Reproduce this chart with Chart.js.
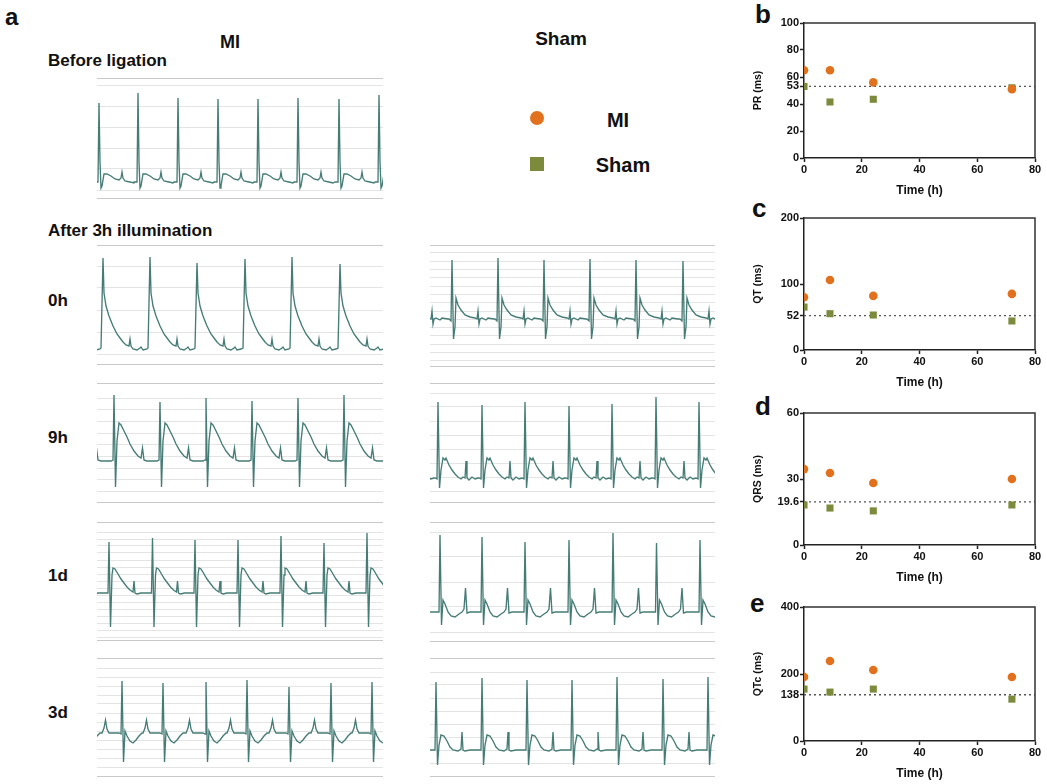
<!DOCTYPE html>
<html>
<head>
<meta charset="utf-8">
<script src="https://cdn.jsdelivr.net/npm/chart.js@4.4.1/dist/chart.umd.min.js"></script>
<style>
  body { margin: 0; background: #fff; }
  #fig { position: relative; width: 1047px; height: 784px; overflow: hidden; font-family: 'Liberation Sans', Arial, sans-serif; }
  #fig canvas { position: absolute; }
  .lbl { position: absolute; font-weight: bold; line-height: 1; white-space: nowrap; color: #111; }
  .mark { position: absolute; }
</style>
</head>
<body>
<div id="fig"></div>
<script>
// ---- panels b-e: intervals vs time ----
const hours = [0, 9, 24, 72];
const timeTicks = [0, 20, 40, 60, 80];

const prMI = [65, 65, 56, 51];
const prSham = [53, 41.5, 43.5, 52];
const prRef = 53;
const prTicks = [0, 20, 40, 53, 60, 80, 100];

const qtMI = [80, 106, 82, 85];
const qtSham = [65, 55, 53, 44];
const qtRef = 52;
const qtTicks = [0, 52, 100, 200];

const qrsMI = [34.5, 32.7, 28.2, 30];
const qrsSham = [18.2, 16.8, 15.5, 18.2];
const qrsRef = 19.6;
const qrsTicks = [0, 19.6, 30, 60];

const qtcMI = [191, 239, 212, 191];
const qtcSham = [155, 146, 155, 125];
const qtcRef = 138;
const qtcTicks = [0, 138, 200, 400];

// ---- panel a: ECG traces ----
// beat shape as [dt, amp] around the R peak, then R times (first one is the beat
// just before the strip starts) and R heights
const beforeMiShape = [[-4,0],[-1,0],[0,84],[1,20],[2,-6],[3,-4],[5,8],[8,8],[12,6],[16,3],[20,2],[22,4],[23,10],[24,4],[26,1],[31,0],[35,-1]];
const beforeMiBeats = [-38, 2, 41, 81, 121, 161, 201, 242, 282];
const beforeMiPeaks = [84, 79, 89, 84, 83, 83, 84, 83, 87];

const mi0hShape = [[-2,0],[0,90],[1,55],[3,42],[6,32],[10,22],[14,14],[17,10],[20,6],[23,3],[26,2],[27,9],[28,2],[30,-1],[34,-2],[37,0],[38,1],[40,-2],[44,-1]];
const mi0hBeats = [-41, 6, 53, 100, 148, 195, 243];
const mi0hPeaks = [90, 90, 91, 85, 89, 91, 84];

const sham0hShape = [[-3,0],[-1,-2],[0,59],[1.5,-20],[3,-8],[4,21],[6,14],[9,9],[13,4],[18,2],[23,1],[25,0],[26,8],[27,-5],[28,0],[30,1],[34,-1],[36,1],[42,0]];
const sham0hBeats = [-24, 22, 68, 114, 160, 206, 253];
const sham0hPeaks = [59, 59, 61, 59, 60, 59, 58];

const mi9hShape = [[-3,0],[-1,1],[0,66],[1.5,-26],[3,20],[5,38],[7,36],[10,30],[13,24],[16,17],[20,10],[24,5],[27,3],[28.5,13],[30,1],[33,0],[38,0],[43,0]];
const mi9hBeats = [-29, 17, 63, 109, 155, 201, 247];
const mi9hPeaks = [63, 66, 59, 63, 60, 63, 66];

const sham9hShape = [[-3,0],[-1,-1],[0,76],[1.5,-10],[3,8],[5,20],[7,18],[8,20],[11,13],[14,8],[17,4],[20,1],[23,-1],[25,1],[27,0],[28,17],[29,0],[31,-2],[34,1],[37,-1],[40,0]];
const sham9hBeats = [-36, 8, 52, 95, 139, 182, 226, 269];
const sham9hPeaks = [76, 76, 73, 76, 72, 74, 81, 76];

const mi1dShape = [[-3,0],[-1,0],[0,52],[1.5,-34],[3,18],[4,25],[6,24],[9,19],[12,14],[15,10],[18,6],[21,3],[24,1],[25,12],[26,0],[28,-1],[32,0],[38,0]];
const mi1dBeats = [-31, 12, 55.5, 98, 141, 184, 227, 270];
const mi1dPeaks = [53, 51, 55, 53, 53, 57, 50, 60];

const sham1dShape = [[-3,0],[-1,0],[0,74],[1.5,-13],[3,12],[5,8],[8,0],[11,-4],[15,-5],[19,-2],[22,0],[24,3],[25.5,24],[27,-1],[30,0],[36,0],[40,0]];
const sham1dBeats = [-34, 10, 52, 95, 139, 183, 226.5, 270];
const sham1dPeaks = [74, 77, 75, 70, 72, 79, 69, 72];

const mi3dShape = [[-20,0],[-18,5],[-16.5,13],[-15,4],[-13,0],[-3,0],[-1,-1],[0,51],[1.5,-29],[3,2],[5,-3],[8,-8],[11,-10],[14,-7],[17,-3],[20,0]];
const mi3dBeats = [-17, 25, 66, 109, 150, 192, 234, 275];
const mi3dPeaks = [51, 52, 50, 51, 53, 46, 50, 51];

const sham3dShape = [[-3,0],[-1,0],[0,70],[1.5,-15],[3,5],[5,15],[8,14],[11,9],[14,3],[17,0],[22,-1],[25,1],[26,18],[27,0],[29,-1],[34,0],[40,0],[44,0]];
const sham3dBeats = [-39, 6, 52, 97, 142, 187, 233, 278];
const sham3dPeaks = [70, 68, 72, 70, 70, 73, 71, 73];

const ORANGE = '#e2711d';
const GREEN = '#7c8a3c';
const TRACE = '#467c76';
const FONT = "'Liberation Sans', Arial, sans-serif";

const fig = document.getElementById('fig');

function addText(text, x, baseline, size, align) {
    const d = document.createElement('div');
    d.className = 'lbl';
    d.textContent = text;
    d.style.fontSize = size + 'px';
    d.style.left = x + 'px';
    d.style.top = (baseline - 0.8465 * size) + 'px';
    if (align === 'center') d.style.transform = 'translateX(-50%)';
    fig.appendChild(d);
}

function addCanvas(left, top, w, h) {
    const c = document.createElement('canvas');
    c.width = w;
    c.height = h;
    c.style.left = left + 'px';
    c.style.top = top + 'px';
    c.style.width = w + 'px';
    c.style.height = h + 'px';
    fig.appendChild(c);
    return c;
}

function buildTrace(shape, beats, peaks) {
    const top = Math.max(...shape.map(p => p[1]));
    const rIdx = shape.findIndex(p => p[1] === top);
    const pts = [];
    beats.forEach((b, k) => {
        shape.forEach((p, i) => {
            pts.push({ x: b + p[0], y: i === rIdx ? peaks[k] : p[1] });
        });
    });
    return pts;
}

function ecg(shape, beats, peaks, box) {
    const w = box.right - box.left;
    const h = box.bottom - box.top;
    const yMax = box.base - box.top;
    const yMin = -(box.bottom - box.base);
    const canvas = addCanvas(box.left, box.top, w, h);
    new Chart(canvas.getContext('2d'), {
        type: 'line',
        data: {
            datasets: [{
                data: buildTrace(shape, beats, peaks),
                borderColor: TRACE,
                borderWidth: 1.35,
                pointRadius: 0,
                tension: 0,
                fill: false
            }]
        },
        options: {
            responsive: false,
            animation: false,
            events: [],
            layout: { padding: 0 },
            plugins: { legend: { display: false }, tooltip: { enabled: false } },
            scales: {
                x: { type: 'linear', min: 0, max: w, display: false },
                y: {
                    min: yMin,
                    max: yMax,
                    ticks: { display: false },
                    border: { display: false },
                    grid: {
                        drawTicks: false,
                        color: ctx => (ctx.tick.value === yMax || ctx.tick.value === yMin) ? '#c9c9c9' : '#e4e4e4',
                        lineWidth: ctx => (ctx.tick.value === yMax || ctx.tick.value === yMin) ? 2 : 1
                    },
                    afterBuildTicks: scale => {
                        const t = [yMax];
                        for (let v = yMax - box.gap; v > yMin + 3; v -= box.step) t.push(v);
                        t.push(yMin);
                        scale.ticks = t.map(v => ({ value: v }));
                    }
                }
            }
        }
    });
}

const framePlugin = {
    id: 'frame',
    afterDraw(chart) {
        const a = chart.chartArea;
        const ctx = chart.ctx;
        ctx.save();
        ctx.strokeStyle = '#333';
        ctx.lineWidth = 1.5;
        ctx.beginPath();
        ctx.moveTo(a.left, a.top);
        ctx.lineTo(a.right, a.top);
        ctx.lineTo(a.right, a.bottom);
        ctx.stroke();
        ctx.restore();
    }
};

function intervalPanel(plotTop, plotH, yTitle, mi, sham, ref, yTicks) {
    const padTop = 12, xAxisH = 44, yAxisW = 56;
    const canvas = addCanvas(748, plotTop - padTop, 299, padTop + plotH + xAxisH);
    const yMax = yTicks[yTicks.length - 1];
    new Chart(canvas.getContext('2d'), {
        type: 'scatter',
        data: {
            datasets: [{
                label: 'MI',
                data: hours.map((h, i) => ({ x: h, y: mi[i] })),
                pointStyle: 'circle',
                pointRadius: 4.3,
                backgroundColor: ORANGE,
                borderWidth: 0
            }, {
                label: 'Sham',
                data: hours.map((h, i) => ({ x: h, y: sham[i] })),
                pointStyle: 'rect',
                pointRadius: 5,
                backgroundColor: GREEN,
                borderWidth: 0
            }, {
                label: 'ref',
                data: [{ x: 0, y: ref }, { x: 80, y: ref }],
                showLine: true,
                borderColor: '#555',
                borderWidth: 1.3,
                borderDash: [2, 3],
                pointRadius: 0
            }]
        },
        options: {
            responsive: false,
            animation: false,
            events: [],
            layout: { padding: { top: padTop, right: 12, left: 0, bottom: 0 } },
            plugins: { legend: { display: false }, tooltip: { enabled: false } },
            scales: {
                x: {
                    type: 'linear',
                    min: 0,
                    max: 80,
                    afterBuildTicks: s => { s.ticks = timeTicks.map(v => ({ value: v })); },
                    afterFit: s => { s.height = xAxisH; },
                    ticks: { color: '#111', padding: 1, font: { family: FONT, weight: 'bold', size: 11 } },
                    grid: { drawOnChartArea: false, color: '#222', tickLength: 4, tickWidth: 1.5 },
                    border: { color: '#222', width: 1.5 },
                    title: { display: true, text: 'Time (h)', color: '#111', padding: { top: 6 }, font: { family: FONT, weight: 'bold', size: 12 } }
                },
                y: {
                    min: 0,
                    max: yMax,
                    afterBuildTicks: s => { s.ticks = yTicks.map(v => ({ value: v })); },
                    afterFit: s => { s.width = yAxisW; },
                    ticks: { color: '#111', padding: 1, autoSkip: false, callback: v => String(v), font: { family: FONT, weight: 'bold', size: 11 } },
                    grid: { drawOnChartArea: false, color: '#222', tickLength: 4, tickWidth: 1.5 },
                    border: { color: '#222', width: 1.5 },
                    title: { display: true, text: yTitle, color: '#111', padding: { bottom: 2 }, font: { family: FONT, weight: 'bold', size: 10.5 } }
                }
            }
        },
        plugins: [framePlugin]
    });
}

// ---- text ----
addText('a', 5, 25, 24);
addText('MI', 230, 48, 18, 'center');
addText('Sham', 561, 45, 19, 'center');
addText('Before ligation', 48, 66, 17);
addText('After 3h illumination', 48, 236, 17);
addText('0h', 48, 306, 17);
addText('9h', 48, 443, 17);
addText('1d', 48, 581, 17);
addText('3d', 48, 718, 17);
addText('MI', 618, 127, 20, 'center');
addText('Sham', 623, 172, 20, 'center');
addText('b', 755, 23, 26);
addText('c', 752, 217, 26);
addText('d', 755, 415, 26);
addText('e', 750, 612, 26);

// legend markers
const dot = document.createElement('div');
dot.className = 'mark';
Object.assign(dot.style, { left: '530px', top: '111px', width: '14px', height: '14px', borderRadius: '50%', background: ORANGE });
fig.appendChild(dot);
const sq = document.createElement('div');
sq.className = 'mark';
Object.assign(sq.style, { left: '530px', top: '157px', width: '14px', height: '14px', background: GREEN });
fig.appendChild(sq);

// ---- ECG traces ----
ecg(beforeMiShape, beforeMiBeats, beforeMiPeaks, { left: 97, right: 383, top: 78, bottom: 199, base: 182, gap: 7, step: 21 });
ecg(mi0hShape, mi0hBeats, mi0hPeaks, { left: 97, right: 383, top: 245, bottom: 365, base: 348, gap: 21, step: 22 });
ecg(sham0hShape, sham0hBeats, sham0hPeaks, { left: 430, right: 715, top: 245, bottom: 367, base: 319, gap: 8, step: 8.3 });
ecg(mi9hShape, mi9hBeats, mi9hPeaks, { left: 97, right: 383, top: 383, bottom: 503, base: 461, gap: 15, step: 11.7 });
ecg(sham9hShape, sham9hBeats, sham9hPeaks, { left: 430, right: 715, top: 383, bottom: 503, base: 478, gap: 10, step: 14 });
ecg(mi1dShape, mi1dBeats, mi1dPeaks, { left: 97, right: 383, top: 522, bottom: 641, base: 593, gap: 10, step: 7 });
ecg(sham1dShape, sham1dBeats, sham1dPeaks, { left: 430, right: 715, top: 522, bottom: 642, base: 612, gap: 10, step: 25 });
ecg(mi3dShape, mi3dBeats, mi3dPeaks, { left: 97, right: 383, top: 658, bottom: 777, base: 733, gap: 10, step: 9 });
ecg(sham3dShape, sham3dBeats, sham3dPeaks, { left: 430, right: 715, top: 658, bottom: 777, base: 750, gap: 14, step: 13 });

// ---- interval panels ----
intervalPanel(23, 135, 'PR (ms)', prMI, prSham, prRef, prTicks);
intervalPanel(218, 132, 'QT (ms)', qtMI, qtSham, qtRef, qtTicks);
intervalPanel(413, 132, 'QRS (ms)', qrsMI, qrsSham, qrsRef, qrsTicks);
intervalPanel(607, 134, 'QTc (ms)', qtcMI, qtcSham, qtcRef, qtcTicks);
</script>
</body>
</html>
